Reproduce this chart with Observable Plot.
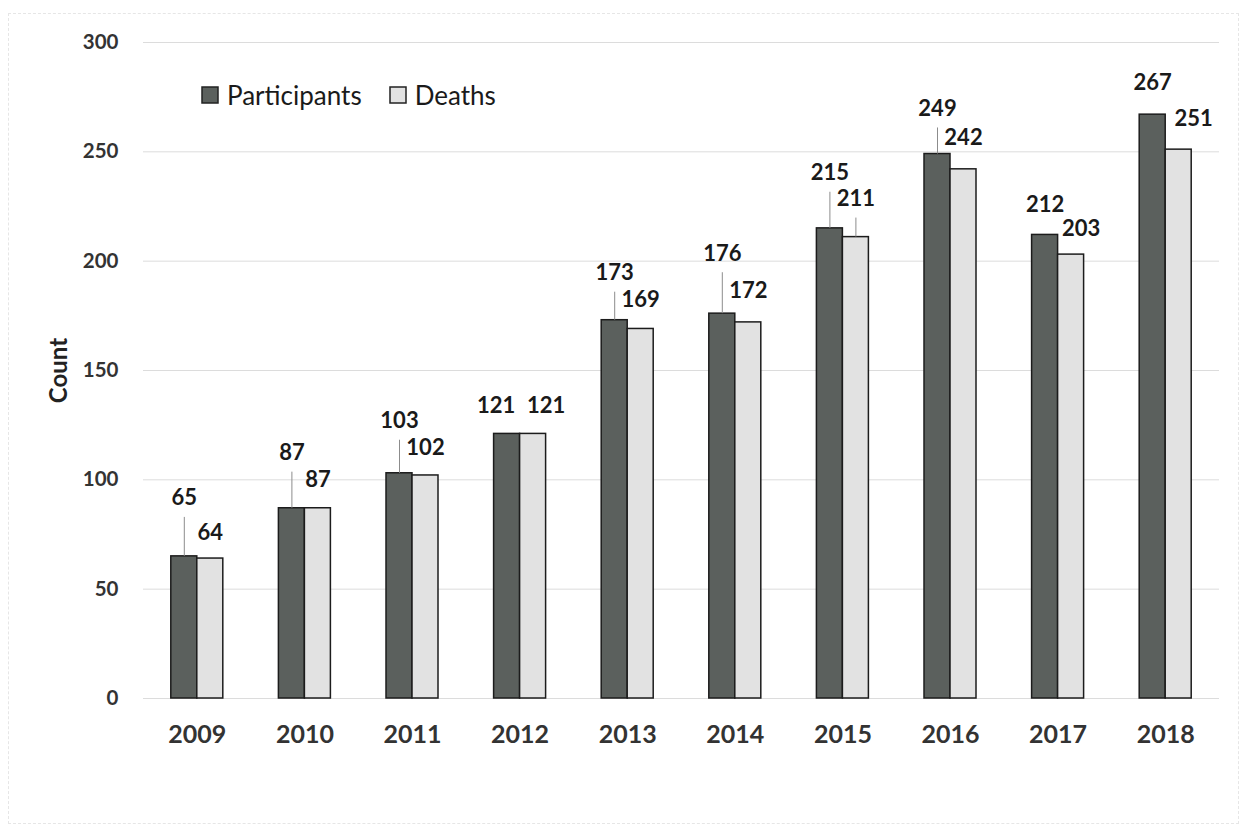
<!DOCTYPE html>
<html>
<head>
<meta charset="utf-8">
<script src="https://cdn.jsdelivr.net/npm/d3@7"></script>
<script src="https://cdn.jsdelivr.net/npm/@observablehq/plot@0.6"></script>
<style>
  body { margin: 0; background: #fff; }
  #wrap { position: relative; width: 1245px; height: 832px; overflow: hidden; font-family: Lato, "Open Sans", sans-serif; }
  #border { position: absolute; left: 8px; top: 13px; right: 6px; bottom: 8px; border: 1px dashed #e6e6e6; pointer-events: none; }
  #chart { position: absolute; left: 0; top: 0; }
  #chart svg g[aria-label^="y-axis"] text { font-size: 20.5px; font-weight: 700; fill: #333; font-family: Lato, sans-serif; }
  #chart svg g[aria-label^="x-axis"] text { font-size: 25px; font-weight: 700; fill: #333; font-family: Lato, sans-serif; }
  #legend { position: absolute; left: 202px; top: 79px; }
  #legend > div { margin: 0 !important; min-height: 0 !important; }
  #legend span { margin-right: 28px !important; }
  #legend svg { margin-right: 9px !important; overflow: visible; }
  #legend svg rect { stroke: #222; stroke-width: 1.5px; }
</style>
</head>
<body>
<div id="wrap">
  <div id="chart"></div>
  <div id="legend"></div>
  <div id="border"></div>
</div>
<script>
// ---- data ----
const years = ["2009", "2010", "2011", "2012", "2013", "2014", "2015", "2016", "2017", "2018"];
const participants = [65, 87, 103, 121, 173, 176, 215, 249, 212, 267];
const deaths = [64, 87, 102, 121, 169, 172, 211, 242, 203, 251];
const seriesNames = ["Participants", "Deaths"];
const yTicks = [0, 50, 100, 150, 200, 250, 300];

// ---- annotation layout (label lift above bar top, in y units; extra x nudge in px) ----
const participantLabelLift = [26.5, 25.2, 23.8, 12.8, 21.5, 27.4, 25.2, 20.6, 13.7, 14.6];
const deathLabelLift = [11.9, 12.8, 12.8, 12.8, 13.3, 14.2, 17.4, 14.2, 11.9, 14.2];
const participantLabelNudge = [0, 0, 0, -11, 0, 0, 0, 0, 0, 0];
const deathLabelNudge = [0, 0, 0, 13, 0, 0, 0, 0, 10, 15];

// ---- styles ----
const dark = "#5b605d", light = "#e2e2e2", edge = "#1c1c1c";
const W = 1245, H = 832, mL = 143, mR = 26, mT = 42, mB = 134;
const step = (W - mL - mR) / years.length;
const barW = 26;
const pxPerUnit = (H - mT - mB) / 300;
const leaderGap = 19 / pxPerUnit;
const labelFont = {fontSize: 22, fontWeight: "bold", fontFamily: "Lato, sans-serif", fill: "#1a1a1a"};

const table = years.map((year, i) => ({
  year,
  participants: participants[i],
  deaths: deaths[i],
  liftP: participantLabelLift[i],
  liftD: deathLabelLift[i],
  nudgeP: participantLabelNudge[i],
  nudgeD: deathLabelNudge[i]
}));

const nudgesP = [...new Set(participantLabelNudge)];
const nudgesD = [...new Set(deathLabelNudge)];

const plot = Plot.plot({
  width: W,
  height: H,
  marginLeft: mL,
  marginRight: mR,
  marginTop: mT,
  marginBottom: mB,
  style: {background: "transparent", fontFamily: "Lato, sans-serif"},
  x: {domain: years, padding: 0, round: false, tickSize: 0, tickPadding: 27, label: null},
  y: {domain: [0, 300], ticks: yTicks, tickSize: 0, tickPadding: 25, label: null},
  marks: [
    Plot.ruleY(yTicks, {stroke: "#dcdcdc", strokeWidth: 1}),
    Plot.barY(table, {x: "year", y: "participants", fill: dark, stroke: edge, strokeWidth: 1.5,
      insetLeft: step / 2 - barW, insetRight: step / 2}),
    Plot.barY(table, {x: "year", y: "deaths", fill: light, stroke: edge, strokeWidth: 1.5,
      insetLeft: step / 2, insetRight: step / 2 - barW}),
    Plot.ruleX(table.filter(d => d.liftP * pxPerUnit > 35), {
      x: "year", y1: "participants", y2: d => d.participants + d.liftP - leaderGap,
      dx: -barW / 2, stroke: "#8c8c8c", strokeWidth: 1
    }),
    Plot.ruleX(table.filter(d => d.liftD * pxPerUnit > 35), {
      x: "year", y1: "deaths", y2: d => d.deaths + d.liftD - leaderGap,
      dx: barW / 2, stroke: "#8c8c8c", strokeWidth: 1
    }),
    ...nudgesP.map(n => Plot.text(table.filter(d => d.nudgeP === n), {
      x: "year", y: d => d.participants + d.liftP, text: d => String(d.participants),
      dx: -barW / 2 + n, ...labelFont
    })),
    ...nudgesD.map(n => Plot.text(table.filter(d => d.nudgeD === n), {
      x: "year", y: d => d.deaths + d.liftD, text: d => String(d.deaths),
      dx: barW / 2 + n, ...labelFont
    })),
    Plot.text(["Count"], {text: d => d, frameAnchor: "left", textAnchor: "middle", rotate: -90, dx: -84,
      fontSize: 24, fontWeight: "bold", fontFamily: "Lato, sans-serif", fill: "#222"})
  ]
});
document.getElementById("chart").appendChild(plot);

const legend = Plot.legend({
  color: {type: "ordinal", domain: seriesNames, range: [dark, light]},
  legend: "swatches",
  swatchSize: 16,
  style: {fontSize: "26px", fontFamily: "Lato, sans-serif", color: "#1a1a1a"}
});
document.getElementById("legend").appendChild(legend);
</script>
</body>
</html>
